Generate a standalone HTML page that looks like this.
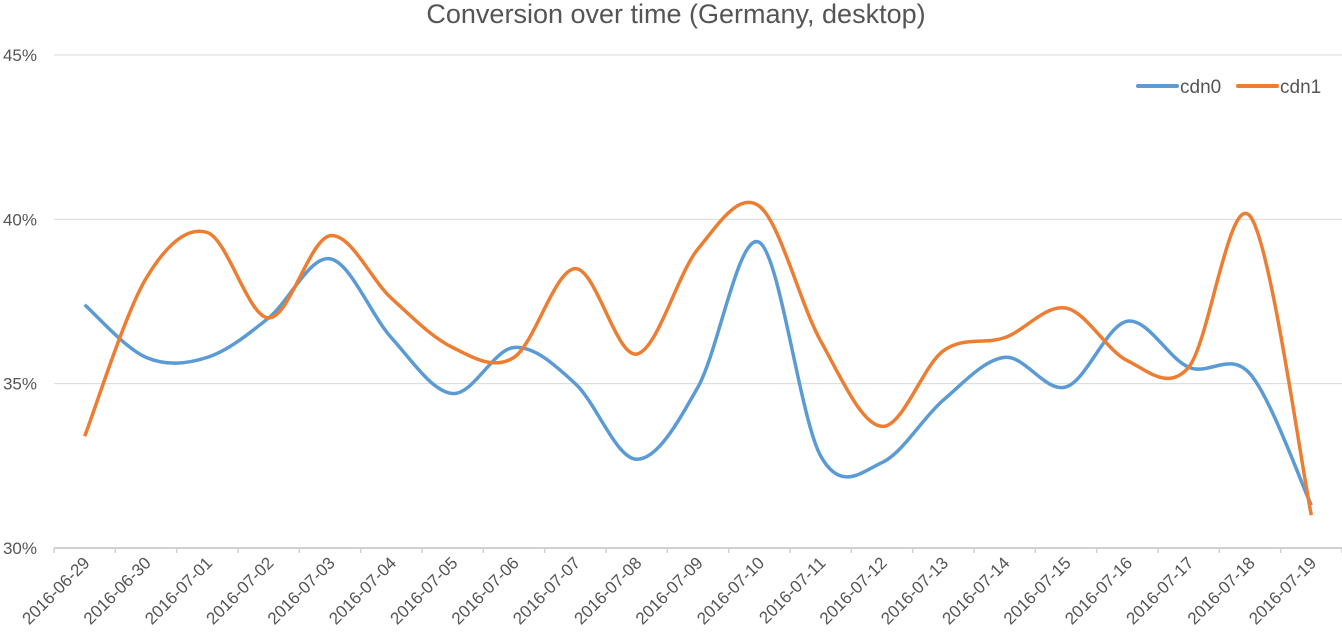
<!DOCTYPE html>
<html><head><meta charset="utf-8"><style>
body{margin:0;background:#fff;}
svg{display:block;font-family:"Liberation Sans",sans-serif;}
</style></head><body>
<svg id="chart" width="1342" height="639">
<text x="676" y="23" text-anchor="middle" font-size="27" fill="#555">Conversion over time (Germany, desktop)</text>
<g id="grid"></g><g id="xaxis"></g><g id="lines"></g>
<g>
<g><line x1="1138" y1="86" x2="1177" y2="86" stroke="#5b9bd5" stroke-width="4" stroke-linecap="round"/><text x="1180" y="93" font-size="19" fill="#555">cdn0</text></g>
<g><line x1="1238" y1="86" x2="1277" y2="86" stroke="#ed7d31" stroke-width="4" stroke-linecap="round"/><text x="1280" y="93" font-size="19" fill="#555">cdn1</text></g>
</g>
</svg>
<script>
const categories=["2016-06-29","2016-06-30","2016-07-01","2016-07-02","2016-07-03","2016-07-04","2016-07-05","2016-07-06","2016-07-07","2016-07-08","2016-07-09","2016-07-10","2016-07-11","2016-07-12","2016-07-13","2016-07-14","2016-07-15","2016-07-16","2016-07-17","2016-07-18","2016-07-19"];
const cdn0=[37.4,35.8,35.8,37.0,38.8,36.4,34.7,36.1,35.0,32.7,34.9,39.3,32.8,32.6,34.5,35.8,34.9,36.9,35.5,35.3,31.3];
const cdn1=[33.4,38.2,39.6,37.0,39.5,37.6,36.1,35.8,38.5,35.9,39.1,40.4,36.3,33.7,36.0,36.4,37.3,35.7,35.5,40.1,31.0];
const yTicks=[30,35,40,45];
const NS="http://www.w3.org/2000/svg";
const x0=54,x1=1342,yBot=548,yTop=55,vMin=30,vMax=45;
const band=(x1-x0)/categories.length;
function xs(i){return x0+band*(i+0.5);}
function ys(v){return yBot-(v-vMin)/(vMax-vMin)*(yBot-yTop);}
function mk(t,a,p){const e=document.createElementNS(NS,t);for(const k in a)e.setAttribute(k,a[k]);p.appendChild(e);return e;}
const grid=document.getElementById('grid');
yTicks.forEach(v=>{
 const l=mk('line',{x1:x0,x2:x1,y1:ys(v),y2:ys(v),stroke:v===vMin?'#d0d0d0':'#d9d9d9','stroke-width':v===vMin?2:1},grid);
 
 
 const t=mk('text',{x:37,y:ys(v)+6,'text-anchor':'end','font-size':17,fill:'#555'},grid);
 t.textContent=v+'%';
 
 
});
const xa=document.getElementById('xaxis');
for(let i=0;i<=categories.length;i++){
 const xx=x0+band*i;
 const tk=mk('line',{x1:xx,x2:xx,y1:yBot,y2:yBot+5,stroke:'#d0d0d0','stroke-width':1.5},xa);
 
 
}
categories.forEach((c,i)=>{
 const xx=xs(i)+6,yy=564;
 const t=mk('text',{x:xx,y:yy,'text-anchor':'end','font-size':17,fill:'#555',transform:`rotate(-45 ${xx} ${yy})`},xa);
 t.textContent=c;
 
 
});
function path(vals){
 const p=vals.map((v,i)=>[xs(i),ys(v)]);
 let d=`M${p[0][0]},${p[0][1]}`;
 for(let i=0;i<p.length-1;i++){
  const a=p[Math.max(0,i-1)],b=p[i],c=p[i+1],e=p[Math.min(p.length-1,i+2)];
  const t=6;
  d+=` C${b[0]+(c[0]-a[0])/t},${b[1]+(c[1]-a[1])/t} ${c[0]-(e[0]-b[0])/t},${c[1]-(e[1]-b[1])/t} ${c[0]},${c[1]}`;
 }
 return d;
}
const lg=document.getElementById('lines');
const p0=mk('path',{d:path(cdn0),fill:'none',stroke:'#5b9bd5','stroke-width':3.5,'stroke-linejoin':'round'},lg);


const p1=mk('path',{d:path(cdn1),fill:'none',stroke:'#ed7d31','stroke-width':3.5,'stroke-linejoin':'round'},lg);


</script>
</body></html>
